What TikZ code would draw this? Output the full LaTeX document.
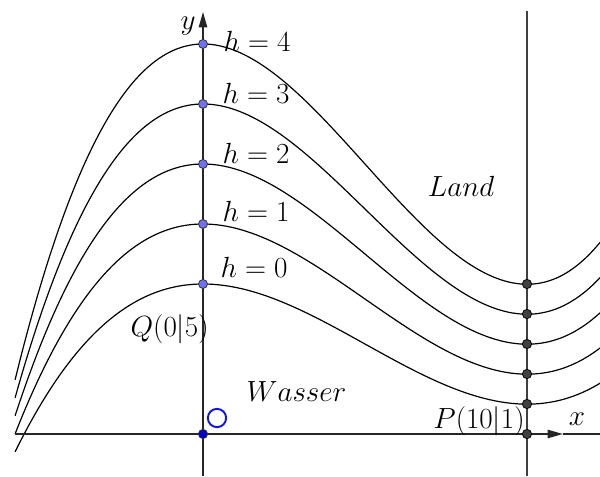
\documentclass[tikz,border=0pt]{standalone}
\usetikzlibrary{arrows.meta}
\definecolor{ptblue}{RGB}{112,112,240}
\definecolor{ptdark}{RGB}{64,64,64}
\definecolor{oblue}{RGB}{0,0,204}
\definecolor{ringblue}{RGB}{20,20,230}
\begin{document}
\begin{tikzpicture}[x=0.81cm,y=0.75cm,
  curve/.style={black, line width=0.85pt},
  axis/.style={black!85, line width=1.05pt},
  lbl/.style={inner sep=0pt, font=\fontsize{19.5}{23}\selectfont},
  ptb/.style={circle, fill=ptblue, draw=black!80, line width=0.55pt, inner sep=0pt, minimum size=6.4pt},
  ptd/.style={circle, fill=ptdark, draw=black, line width=0.55pt, inner sep=0pt, minimum size=6.6pt},
  pto/.style={circle, fill=oblue, draw=black!80, line width=0.55pt, inner sep=0pt, minimum size=6.6pt},
  tip/.style={-{Triangle[length=11pt,width=6pt]}}
]
\useasboundingbox (-6.2654,-1.4) rectangle (12.2531,14.4667);
% curves
\foreach \h in {0,...,4}{
  \draw[curve] plot[domain=-5.8:12.26, samples=160, smooth]
    (\x, {(4+\h)/500*\x*\x*\x - 15*(4+\h)/500*\x*\x + 5+2*\h});
}
% axis coordinates
\coordinate (xs) at (-5.8,0);
\coordinate (xt) at (11.11,0);
\coordinate (xe) at (12.2531,0);
\coordinate (ys) at (0,-1.4);
\coordinate (yt) at (0,14.067);
\coordinate (vs) at (10,-1.4);
\coordinate (vt) at (10,14.1);
\draw[axis, tip] (xs) -- (xt);
\draw[axis] (xt) -- (xe);
\draw[axis, tip] (ys) -- (yt);
\draw[axis, black!75] (vs) -- (vt);
% points
\foreach \h in {0,...,4}{
  \node[ptb] (q\h) at (0,{5+2*\h}) {};
  \node[ptd] (p\h) at (10,{1+\h}) {};
}
\node[pto] (O) at (0,0) {};
\node[ptd] (P) at (10,0) {};
\node[circle, draw=ringblue, line width=1.4pt, minimum size=13pt, inner sep=0pt] (ring) at (0.432,0.533) {};
% labels
\node[lbl] (ly) at (-0.46,13.6) {$y$};
\node[lbl] (lx) at (11.54,0.5) {$x$};
\node[lbl] (h4) at (1.667,13.1) {$h=4$};
\node[lbl] (h3) at (1.636,11.367) {$h=3$};
\node[lbl] (h2) at (1.636,9.367) {$h=2$};
\node[lbl] (h1) at (1.636,7.433) {$h=1$};
\node[lbl] (h0) at (1.574,5.567) {$h=0$};
\node[lbl] (lq) at (-1.03,3.5) {$Q(0|5)$};
\node[lbl] (lw) at (2.886,1.4) {$Wasser$};
\node[lbl] (ll) at (7.963,8.267) {$Land$};
\node[lbl] (lp) at (8.52,0.433) {$P(10|1)$};
\end{tikzpicture}
\end{document}
